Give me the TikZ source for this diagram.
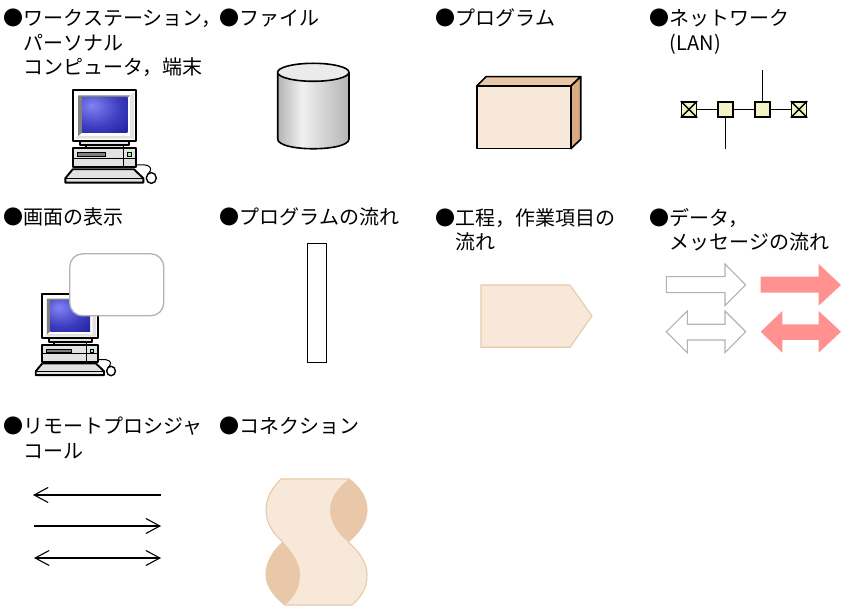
\documentclass[tikz,border=0pt]{standalone}
\usepackage{fontspec}
\usepackage{xcolor}
\usepackage{tikz}
\setmainfont{Noto Sans CJK JP}
\usetikzlibrary{arrows.meta, positioning}
\definecolor{creamcolor}{RGB}{247,232,218}
\definecolor{tancolor}{RGB}{232,200,168}
\definecolor{sidecolor}{RGB}{216,172,128}
\definecolor{pinkcolor}{RGB}{255,145,145}
\definecolor{ghostcolor}{RGB}{178,178,178}
\definecolor{tapcolor}{RGB}{243,243,196}
\definecolor{casecolor}{RGB}{226,226,226}
\definecolor{glowcolor}{RGB}{130,130,245}
\definecolor{midbluecolor}{RGB}{60,60,190}
\definecolor{navycolor}{RGB}{0,0,125}
\definecolor{drumdarkcolor}{RGB}{180,180,180}
\definecolor{drumlightcolor}{RGB}{240,240,240}
\pgfdeclareradialshading{screenglow}{\pgfpoint{-15bp}{15bp}}{
    color(0bp)=(glowcolor);
    color(28bp)=(midbluecolor);
    color(68bp)=(navycolor);
    color(100bp)=(navycolor)}
\pgfdeclarehorizontalshading{drumshade}{100bp}{
    color(0bp)=(drumdarkcolor);
    color(25bp)=(drumdarkcolor);
    color(42bp)=(drumlightcolor);
    color(75bp)=(drumdarkcolor);
    color(100bp)=(drumdarkcolor)}
\newcommand{\nextline}{\\\hspace*{20pt}}

\begin{document}
\begin{tikzpicture}[
    x=1pt, y=-1pt,
    heading/.style={anchor=north west, inner sep=0pt, align=left, font=\fontsize{20}{24.5}\selectfont},
    outline/.style={draw=black, line width=1.6pt, line join=round},
    heavy/.style={draw=black, line width=1.9pt, line join=round},
    shell/.style={draw=tancolor, line width=1.1pt, fill=creamcolor, line join=round},
    ghost/.style={draw=ghostcolor, line width=1.1pt, fill=white},
    solidarrow/.style={fill=pinkcolor},
    tap/.style={draw=black, line width=1.5pt, fill=tapcolor, minimum size=15pt, inner sep=0pt},
    wire/.style={draw=black, line width=1.4pt},
    rpc/.style={line width=1.1pt, black},
    tip/.tip={Straight Barb[length=14pt, width=15pt, line width=1.1pt]},
    computer/.pic={
        % Monitor
        \draw[heavy, fill=white] (22.7,60.7) rectangle (86,10);
        \fill[casecolor] (80,15.3) -- (84,12) -- (84,58.7) -- (25,58.7) -- (28,56) -- (80,56) -- cycle;
        \fill[gray] (28,15.3) -- (80,15.3) -- (77.3,18) -- (32,18) -- (32,52.7) -- (28,56) -- cycle;
        \shade[shading=screenglow] (32,18) rectangle (77.3,52.7);
        \draw[heavy, fill=casecolor] (30,60.7) rectangle (79.3,65.3);
        \draw[outline, fill=casecolor] (36,65.3) rectangle (73.3,68.3);
        % Base unit
        \draw[heavy, fill=casecolor] (22.7,68.3) rectangle (86,87.3);
        \draw[black, line width=0.7pt] (22.7,78.3) -- (86,78.3);
        \draw[black, line width=0.7pt] (73.3,68.3) -- (73.3,87.3);
        \draw[black, line width=0.5pt, fill=gray] (27.3,72.7) rectangle (55.3,76.7);
        \draw[black, line width=0.5pt, fill=green!45] (77.3,72.7) rectangle (81.3,76.7);
        % Keyboard and mouse
        \draw[heavy, fill=casecolor] (22.7,89.3) -- (84,89.3) -- (93.3,98.3) -- (93.3,102.7) -- (15.3,102.7) -- (15.3,98.3) -- cycle;
        \draw[black, line width=1.2pt] (15.3,98.3) -- (93.3,98.3);
        \draw[black, line width=1pt] (86,85) -- (95,85) .. controls (102,86) and (102,90) .. (98,94);
        \draw[black, line width=1.4pt, fill=white] (101.3,98) ellipse [x radius=5, y radius=5.4];
    }
]
    % Headings
    \node[heading] (hworkstation) at (3.5,9) {●ワークステーション，\nextline パーソナル\nextline コンピュータ，端末};
    \node[heading] (hfile) at (219.5,9) {●ファイル};
    \node[heading] (hprogram) at (435.5,9) {●プログラム};
    \node[heading] (hnetwork) at (649.5,9) {●ネットワーク\nextline (LAN)};
    \node[heading] (hscreen) at (3.5,208) {●画面の表示};
    \node[heading] (hprogflow) at (219.5,208) {●プログラムの流れ};
    \node[heading] (hprocess) at (435.5,208) {●工程，作業項目の\nextline 流れ};
    \node[heading] (hdata) at (649.5,208) {●データ，\nextline メッセージの流れ};
    \node[heading] (hrpc) at (3.5,417) {●リモートプロシジャ\nextline コール};
    \node[heading] (hconnection) at (219.5,417) {●コネクション};

    % Workstation
    \pic at (50,80) {computer};

    % File
    \shade[shading=drumshade] (277.7,72.3) -- (277.7,139) .. controls (277.7,152) and (349,152) .. (349,139) -- (349,72.3) -- cycle;
    \draw[outline] (277.7,72.3) -- (277.7,139) .. controls (277.7,152) and (349,152) .. (349,139) -- (349,72.3);
    \draw[outline, fill=black!8] (313.3,72.3) ellipse [x radius=35.7, y radius=9];

    % Program
    \draw[outline, fill=tancolor] (476.7,86) -- (486,76.7) -- (580.7,76.7) -- (571,86) -- cycle;
    \draw[outline, fill=sidecolor] (571,86) -- (580.7,76.7) -- (580.7,139.3) -- (571,148.7) -- cycle;
    \draw[outline, fill=creamcolor] (476.7,86) rectangle (571,148.7);

    % Network
    \node[tap] (termleft) at (689,109.3) {};
    \node[tap] (tapleft) at (725.7,109.3) {};
    \node[tap] (tapright) at (762.3,109.3) {};
    \node[tap] (termright) at (799,109.3) {};
    \coordinate (stubdown) at (725.7,148.7);
    \coordinate (stubup) at (762.3,70);
    \draw[wire] (termleft) -- (tapleft);
    \draw[wire] (tapleft) -- (tapright);
    \draw[wire] (tapright) -- (termright);
    \draw[wire] (tapleft) -- (stubdown);
    \draw[wire] (tapright) -- (stubup);
    \draw[wire] (termleft.north west) -- (termleft.south east);
    \draw[wire] (termleft.north east) -- (termleft.south west);
    \draw[wire] (termright.north west) -- (termright.south east);
    \draw[wire] (termright.north east) -- (termright.south west);

    % Screen display
    \pic[scale=0.875, transform shape] at (22.4,285.25) {computer};
    \node[draw=ghostcolor, line width=1.3pt, fill=white, rounded corners=13pt, minimum width=94pt, minimum height=62pt, inner sep=0pt] (balloon) at (116.7,284.8) {};

    % Program flow
    \node[draw=black, line width=1pt, fill=white, minimum width=19pt, minimum height=119pt, inner sep=0pt] (flowbar) at (316.5,303.5) {};

    % Process flow
    \draw[shell] (481,285) -- (570,285) -- (592,316) -- (570,347.3) -- (481,347.3) -- cycle;

    % Data flow
    \draw[ghost] (666.3,276.7) -- (725,276.7) -- (725,264) -- (745.7,285) -- (725,305.7) -- (725,292.7) -- (666.3,292.7) -- cycle;
    \fill[solidarrow] (760.7,276.7) -- (818.7,276.7) -- (818.7,264) -- (841,285) -- (818.7,305.7) -- (818.7,292.7) -- (760.7,292.7) -- cycle;
    \draw[ghost] (666.3,331.7) -- (687.3,311) -- (687.3,324.3) -- (725,324.3) -- (725,311) -- (745.7,331.7) -- (725,352.7) -- (725,340) -- (687.3,340) -- (687.3,352.7) -- cycle;
    \fill[solidarrow] (760.7,331.7) -- (782.3,311) -- (782.3,324.3) -- (818.7,324.3) -- (818.7,311) -- (841,331.7) -- (818.7,352.7) -- (818.7,340) -- (782.3,340) -- (782.3,352.7) -- cycle;

    % Remote procedure call
    \coordinate (rpcaleft) at (33,495);
    \coordinate (rpcaright) at (161,495);
    \coordinate (rpcbleft) at (34,526);
    \coordinate (rpcbright) at (161,526);
    \coordinate (rpccleft) at (34,558);
    \coordinate (rpccright) at (161,558);
    \draw[rpc, {tip}-] (rpcaleft) -- (rpcaright);
    \draw[rpc, -{tip}] (rpcbleft) -- (rpcbright);
    \draw[rpc, {tip}-{tip}] (rpccleft) -- (rpccright);

    % Connection
    \draw[shell, fill=tancolor] (283,542) .. controls (272,552) and (266,563) .. (266,575) .. controls (266,587) and (276,598) .. (285,605) .. controls (295,597) and (300,587) .. (300,575) .. controls (300,563) and (293,552) .. (283,542) -- cycle;
    \draw[shell, fill=tancolor] (349,479) .. controls (360,487) and (367,498) .. (367,510) .. controls (367,522) and (359,533) .. (348,542) .. controls (337,533) and (330,522) .. (330,510) .. controls (330,498) and (338,487) .. (349,479) -- cycle;
    \fill[creamcolor] (281,479) -- (349,479) .. controls (338,487) and (330,498) .. (330,510) .. controls (330,522) and (337,533) .. (348,542) .. controls (359,551) and (367,563) .. (367,575) .. controls (367,590) and (360,598) .. (352,605) -- (285,605) .. controls (295,597) and (300,587) .. (300,575) .. controls (300,563) and (293,552) .. (283,542) .. controls (272,533) and (266,522) .. (266,510) .. controls (266,497) and (273,487) .. (281,479) -- cycle;
    \draw[tancolor, line width=1.1pt] (349,479) -- (281,479) .. controls (273,487) and (266,497) .. (266,510) .. controls (266,522) and (272,533) .. (283,542);
    \draw[tancolor, line width=1.1pt] (348,542) .. controls (359,551) and (367,563) .. (367,575) .. controls (367,590) and (360,598) .. (352,605) -- (285,605);

    \useasboundingbox (0,0) rectangle (844,609);
\end{tikzpicture}
\end{document}
